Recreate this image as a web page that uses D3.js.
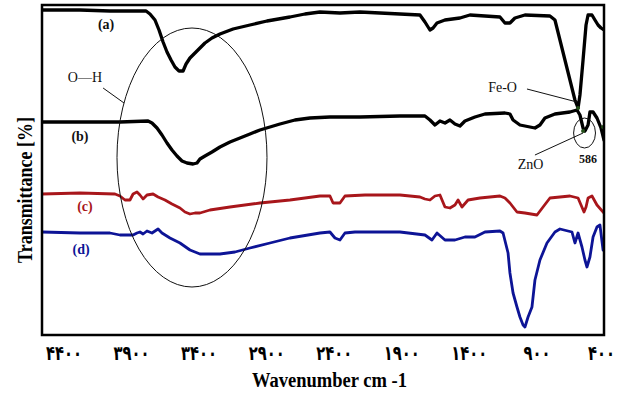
<!DOCTYPE html>
<html>
<head>
<meta charset="utf-8">
<script src="https://cdn.jsdelivr.net/npm/d3@7"></script>
<style>
html,body{margin:0;padding:0;background:#fff;}
svg{display:block;}
</style>
</head>
<body>
<svg id="chart" width="626" height="401"></svg>
<script>
// ---- data (wavenumber cm-1, transmittance in arbitrary offset units) ----
const seriesA = [[4559,162.5],[4278,162.5],[4056,162],[3834,162],[3789,162],[3760,160.5],[3723,157.5],[3693,152.5],[3663,146.5],[3634,141.5],[3604,137.5],[3575,134],[3545,132],[3515,132],[3493,135.5],[3464,138.5],[3427,141],[3390,143.5],[3353,146],[3301,148.5],[3242,150.5],[3145,153],[3020,155],[2894,157],[2724,159],[2613,160.5],[2502,161.5],[2354,161],[2206,161.5],[2058,161],[1910,160.5],[1762,160],[1725,156.5],[1688,152.5],[1665,153.5],[1636,156],[1577,157.5],[1466,158.5],[1392,160],[1281,159.5],[1170,159],[1133,156],[1096,156],[1059,158.5],[985,160],[800,159.5],[763,157.5],[726,147.5],[689,137.5],[652,127.5],[615,117.5],[592,113.5],[578,120],[555,137.5],[533,155],[518,160],[489,160],[467,157.5],[444,155],[422,153.5],[400,152.5]];
const seriesB = [[4559,106.5],[4278,106.5],[3982,106.5],[3774,107],[3745,106],[3708,103.5],[3671,100],[3634,96],[3597,92.5],[3560,89.5],[3523,87],[3486,86],[3441,85.5],[3412,86],[3390,88],[3353,89.5],[3301,91.5],[3242,94],[3168,96.5],[3094,98.5],[3020,100.5],[2946,102.5],[2872,104],[2798,105.5],[2687,107.5],[2576,108.5],[2428,109],[2206,109],[1910,109.5],[1725,109.5],[1688,107.5],[1651,105],[1614,107],[1577,106],[1540,107.5],[1503,105.5],[1466,104.5],[1429,107],[1355,109],[1281,110.5],[1133,111],[1096,110.5],[1073,107.5],[1022,105],[948,104],[911,103.5],[874,105],[837,108.5],[763,110.5],[652,111.5],[600,112.5],[578,110],[555,103.5],[541,102],[518,105],[504,111.5],[481,111.5],[452,108.5],[422,103.5],[400,97.5]];
const seriesC = [[4559,70.5],[4278,71],[4019,70.5],[3982,69.5],[3945,67.5],[3908,67.5],[3885,70.5],[3856,71.5],[3834,70],[3811,68],[3782,70],[3737,70.5],[3700,69],[3649,67.5],[3597,65.5],[3538,63.5],[3501,61.5],[3464,60.5],[3427,61],[3390,61],[3316,62.5],[3168,64],[2946,66],[2724,67.5],[2502,69.5],[2428,69.5],[2405,66],[2354,66],[2317,69.5],[2169,70],[1910,70],[1762,69],[1725,68],[1688,67.5],[1651,69.5],[1614,70],[1577,64],[1540,63.5],[1503,65],[1480,67.5],[1451,64],[1406,67.5],[1318,68.5],[1170,69.5],[1133,68.5],[1096,66],[1044,61.5],[985,61],[896,60],[851,64],[800,68.5],[652,69.5],[592,68.5],[570,65],[548,61.5],[533,64],[518,68.5],[489,69.5],[452,65],[400,61]];
const seriesD = [[4559,51.5],[4278,51],[4056,51],[3982,50],[3885,50],[3856,51],[3834,51.5],[3811,50.5],[3782,52],[3745,51],[3700,53],[3671,51],[3612,48.5],[3538,46],[3464,42.5],[3390,40.5],[3242,40.5],[3131,41.5],[3020,43.5],[2872,46],[2724,48.5],[2502,51],[2428,51.5],[2391,48.5],[2354,47.5],[2317,51],[2243,51.5],[1910,51.5],[1725,50],[1673,47.5],[1636,51],[1577,47.5],[1503,47.5],[1429,49],[1355,49],[1281,51.5],[1170,52],[1147,51],[1110,41],[1096,31],[1073,21],[1044,14],[1022,9],[999,5],[985,4],[962,9],[933,14],[911,27.5],[874,37.5],[822,46],[763,51.5],[726,53],[637,51.5],[615,46],[592,51],[563,44],[541,37.5],[526,34],[504,39],[481,49],[452,54],[430,55],[407,42.5]];

const seriesNames = ["(a)", "(b)", "(c)", "(d)"];
const seriesColors = ["#000000", "#000000", "#a8161b", "#0d1496"];
const labelPos = [[4085,153],[4278,97],[4241,62],[4270,40.5]];

const tickValues = [4400, 3900, 3400, 2900, 2400, 1900, 1400, 900, 400];
const tickLabels = ["۴۴۰۰", "۳۹۰۰", "۳۴۰۰", "۲۹۰۰", "۲۴۰۰", "۱۹۰۰", "۱۴۰۰", "۹۰۰", "۴۰۰"];

const xTitle = "Wavenumber cm -1";
const yTitle = "Transmittance [%]";

// annotations (data units)
const bigEllipse = {cx: 3449, cy: 88.75, rx: 555, ry: 64.75};
const smallEllipse = {cx: 544, cy: 101, rx: 81, ry: 7.5};
const annoTexts = [
  {text: "O—H", x: 4241, y: 126.5, bold: false, size: 14},
  {text: "Fe-O", x: 1151, y: 121.5, bold: false, size: 14},
  {text: "ZnO", x: 944, y: 83, bold: false, size: 14},
  {text: "586", x: 518, y: 86, bold: true, size: 12}
];
const leaders = [
  [[4107,123.5],[3952,116]],
  [[970,123],[600,116.5]],
  [[911,90],[555,101]]
];
const greenDots = [[592,113.5],[555,102],[407,104]];

// ---- layout ----
const L = 42, R = 604, T = 5, B = 335;
const svg = d3.select("#chart");
const x = d3.scaleLinear().domain([4559, 400]).range([L, R]);
const y = d3.scaleLinear().domain([0, 165]).range([B, T]);

svg.append("defs").append("clipPath").attr("id", "clip")
  .append("rect").attr("x", L).attr("y", T).attr("width", R - L).attr("height", B - T);

const plot = svg.append("g").attr("clip-path", "url(#clip)");
const line = d3.line().x(d => x(d[0])).y(d => y(d[1]));

const allSeries = [seriesA, seriesB, seriesC, seriesD];
allSeries.forEach((s, i) => {
  plot.append("path").datum(s)
    .attr("d", line)
    .attr("fill", "none")
    .attr("stroke", seriesColors[i])
    .attr("stroke-width", i < 2 ? 3.3 : 2.8)
    .attr("stroke-linejoin", "round")
    .attr("stroke-linecap", "round");
});

plot.selectAll("circle.g").data(greenDots).enter().append("circle")
  .attr("cx", d => x(d[0])).attr("cy", d => y(d[1])).attr("r", 2)
  .attr("fill", "#24501a");

// ellipses
plot.append("ellipse")
  .attr("cx", x(bigEllipse.cx)).attr("cy", y(bigEllipse.cy))
  .attr("rx", Math.abs(x(bigEllipse.cx + bigEllipse.rx) - x(bigEllipse.cx)))
  .attr("ry", Math.abs(y(bigEllipse.cy + bigEllipse.ry) - y(bigEllipse.cy)))
  .attr("fill", "none").attr("stroke", "#111").attr("stroke-width", 1);
plot.append("ellipse")
  .attr("cx", x(smallEllipse.cx)).attr("cy", y(smallEllipse.cy))
  .attr("rx", Math.abs(x(smallEllipse.cx + smallEllipse.rx) - x(smallEllipse.cx)))
  .attr("ry", Math.abs(y(smallEllipse.cy + smallEllipse.ry) - y(smallEllipse.cy)))
  .attr("fill", "none").attr("stroke", "#111").attr("stroke-width", 1);

leaders.forEach(l => {
  plot.append("line")
    .attr("x1", x(l[0][0])).attr("y1", y(l[0][1]))
    .attr("x2", x(l[1][0])).attr("y2", y(l[1][1]))
    .attr("stroke", "#111").attr("stroke-width", 1);
});

// frame
svg.append("rect").attr("x", L).attr("y", T).attr("width", R - L).attr("height", B - T)
  .attr("fill", "none").attr("stroke", "#000").attr("stroke-width", 2.5);

// series labels
seriesNames.forEach((n, i) => {
  svg.append("text")
    .attr("x", x(labelPos[i][0])).attr("y", y(labelPos[i][1]))
    .attr("text-anchor", "middle")
    .attr("font-family", "'Liberation Serif', 'Times New Roman', serif")
    .attr("font-weight", "bold").attr("font-size", 14)
    .attr("fill", i < 2 ? "#111" : seriesColors[i])
    .text(n);
});

annoTexts.forEach(a => {
  svg.append("text")
    .attr("x", x(a.x)).attr("y", y(a.y))
    .attr("text-anchor", "middle")
    .attr("font-family", "'Liberation Serif', 'Times New Roman', serif")
    .attr("font-weight", a.bold ? "bold" : "normal")
    .attr("font-size", a.size)
    .attr("fill", "#111")
    .text(a.text);
});

// x axis (tick labels only)
const xAxis = d3.axisBottom(x)
  .tickValues(tickValues)
  .tickFormat((d, i) => tickLabels[i])
  .tickSize(0).tickPadding(0);
const gx = svg.append("g").attr("transform", `translate(0,${B})`).call(xAxis);
gx.select(".domain").remove();
gx.selectAll("text")
  .attr("y", 25)
  .attr("dy", 0)
  .attr("dx", (d, i) => i === tickLabels.length - 1 ? -3 : 0)
  .attr("font-family", "'DejaVu Sans', sans-serif")
  .attr("font-weight", "bold")
  .attr("font-size", 20)
  .attr("textLength", (d, i) => tickLabels[i].length === 4 ? 36 : 27)
  .attr("lengthAdjust", "spacingAndGlyphs")
  .attr("fill", "#000");

// axis titles
svg.append("text")
  .attr("x", 329.5).attr("y", 387)
  .attr("text-anchor", "middle")
  .attr("font-family", "'Liberation Serif', 'Times New Roman', serif")
  .attr("font-weight", "bold").attr("font-size", 20)
  .attr("textLength", 155).attr("lengthAdjust", "spacingAndGlyphs")
  .text(xTitle);

svg.append("text")
  .attr("transform", "translate(32,190) rotate(-90)")
  .attr("x", 0).attr("y", 0)
  .attr("text-anchor", "middle")
  .attr("font-family", "'Liberation Serif', 'Times New Roman', serif")
  .attr("font-weight", "bold").attr("font-size", 22)
  .attr("textLength", 146).attr("lengthAdjust", "spacingAndGlyphs")
  .text(yTitle);
</script>
</body>
</html>
